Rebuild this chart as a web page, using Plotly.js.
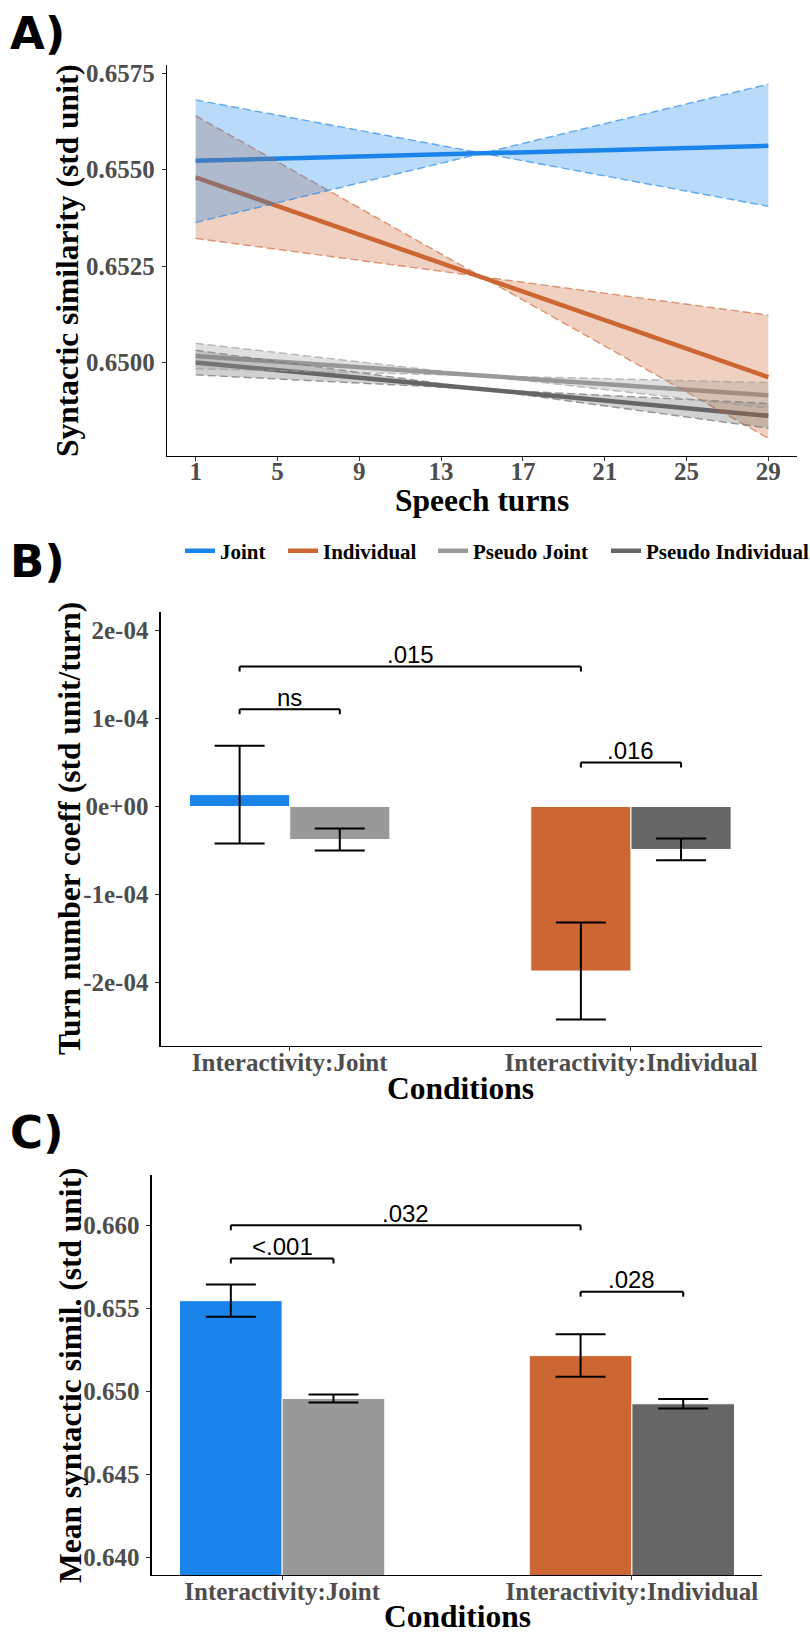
<!DOCTYPE html>
<html>
<head>
<meta charset="utf-8">
<script src="https://cdn.plot.ly/plotly-3.0.1.min.js"></script>
<style>
  html, body { margin: 0; padding: 0; background: #ffffff; }
  #fig { width: 810px; height: 1636px; }
</style>
</head>
<body>
<div id="fig"></div>
<script>
// ---------- Panel A: fitted similarity over speech turns ----------
const turnEnds = [1, 29];
const jointFit     = [0.65523, 0.65562];
const jointBoundA  = [0.65681, 0.65405];
const jointBoundB  = [0.65363, 0.65722];
const indivFit     = [0.65480, 0.64962];
const indivBoundA  = [0.65640, 0.64804];
const indivBoundB  = [0.65322, 0.65123];
const pjointFit    = [0.65017, 0.64915];
const pjointBoundA = [0.65050, 0.64882];
const pjointBoundB = [0.64984, 0.64948];
const pindivFit    = [0.65000, 0.64862];
const pindivBoundA = [0.65032, 0.64830];
const pindivBoundB = [0.64968, 0.64894];
const turnTicks = [1, 5, 9, 13, 17, 21, 25, 29];
const simTicks = [0.6500, 0.6525, 0.6550, 0.6575];
const simTickText = ['0.6500', '0.6525', '0.6550', '0.6575'];

// ---------- Groups shared by panels B and C ----------
const groups = ['Joint', 'Individual', 'Pseudo Joint', 'Pseudo Individual'];
const conditions = ['Interactivity:Joint', 'Interactivity:Individual'];
const groupCondition = [0, 1, 0, 1];      // index into conditions
const groupIsPseudo = [false, false, true, true];
const groupColors = ['#1a84ea', '#cc6633', '#999999', '#666666'];
const groupRGB = ['26,132,234', '204,102,51', '153,153,153', '102,102,102'];

// ---------- Panel B: turn-number coefficient ----------
const slopeValues = [1.35e-5, -1.87e-4, -3.76e-5, -4.88e-5];
const slopeErrors = [5.55e-5, 5.52e-5, 1.25e-5, 1.24e-5];
const slopeTicks = [-2e-4, -1e-4, 0, 1e-4, 2e-4];
const slopeTickText = ['-2e-04', '-1e-04', '0e+00', '1e-04', '2e-04'];
const slopeBrackets = [
  { a: 0, b: 1, y: 1.59e-4, label: '.015' },
  { a: 0, b: 2, y: 1.105e-4, label: 'ns' },
  { a: 1, b: 3, y: 0.50e-4, label: '.016' }
];

// ---------- Panel C: mean syntactic similarity ----------
const meanValues = [0.65546, 0.65215, 0.64957, 0.64925];
const meanErrors = [0.00097, 0.00128, 0.00024, 0.00028];
const meanTicks = [0.640, 0.645, 0.650, 0.655, 0.660];
const meanTickText = ['0.640', '0.645', '0.650', '0.655', '0.660'];
const meanBrackets = [
  { a: 0, b: 1, y: 0.6600, label: '.032' },
  { a: 0, b: 2, y: 0.6580, label: '<.001' },
  { a: 1, b: 3, y: 0.6560, label: '.028' }
];

// ---------- styling ----------
const W = 810, H = 1636;
const BAR_GAP = 0.413;
const serif = 'Liberation Serif, Times New Roman, serif';
const sans = 'Liberation Sans, Arial, sans-serif';
const tickFont = { family: serif, size: 25, color: '#4d4d4d', weight: 'bold' };
const catFont = { family: serif, size: 25, color: '#4d4d4d', weight: 'bold' };
const titleFont = { family: serif, size: 31.5, color: '#000000', weight: 'bold' };
// legend entry widths so the keys are spread like a ggplot legend
const legendWidths = [58, 105, 128, null];

const px = (v) => v / W;
const py = (v) => 1 - v / H;

const traces = [];

// fitted lines (also feed the legend)
const fits = [jointFit, indivFit, pjointFit, pindivFit];
fits.forEach((fy, i) => {
  const t = {
    type: 'scatter', mode: 'lines', x: turnEnds, y: fy,
    xaxis: 'x', yaxis: 'y', name: groups[i],
    line: { color: groupColors[i], width: 4.5 },
    showlegend: true, hoverinfo: 'skip'
  };
  if (legendWidths[i]) t.legendwidth = legendWidths[i];
  traces.push(t);
});

// confidence ribbons, drawn after the lines
const ribbonOrder = [1, 0, 3, 2];
const bounds = [
  [jointBoundA, jointBoundB],
  [indivBoundA, indivBoundB],
  [pjointBoundA, pjointBoundB],
  [pindivBoundA, pindivBoundB]
];
ribbonOrder.forEach((g) => {
  const edge = { color: 'rgba(' + groupRGB[g] + ',0.65)', width: 1.4, dash: '8px,4px' };
  traces.push({
    type: 'scatter', mode: 'lines', x: turnEnds, y: bounds[g][0],
    xaxis: 'x', yaxis: 'y', line: edge, showlegend: false, hoverinfo: 'skip'
  });
  traces.push({
    type: 'scatter', mode: 'lines', x: turnEnds, y: bounds[g][1],
    xaxis: 'x', yaxis: 'y', line: edge, fill: 'tonexty',
    fillcolor: 'rgba(' + groupRGB[g] + ',0.3)', showlegend: false, hoverinfo: 'skip'
  });
});

// bar panels
function barTraces(values, errors, xa, ya) {
  groups.forEach((g, i) => {
    traces.push({
      type: 'bar', x: [conditions[groupCondition[i]]], y: [values[i]],
      xaxis: xa, yaxis: ya, name: g, showlegend: false,
      offsetgroup: groupIsPseudo[i] ? 'pseudo' : 'real',
      marker: { color: groupColors[i], line: { color: '#ffffff', width: 1 } },
      error_y: { type: 'data', array: [errors[i]], visible: true, color: '#000000', thickness: 2, width: 25 },
      hoverinfo: 'skip'
    });
  });
}
barTraces(slopeValues, slopeErrors, 'x2', 'y2');
barTraces(meanValues, meanErrors, 'x3', 'y3');

// significance brackets
const barOffset = (1 - BAR_GAP) / 4;
const groupX = (i) => groupCondition[i] + (groupIsPseudo[i] ? barOffset : -barOffset);
const shapes = [];
const annotations = [];
function addBrackets(list, xa, ya, tickLen) {
  list.forEach((br) => {
    const x0 = groupX(br.a), x1 = groupX(br.b);
    const ln = { color: '#000000', width: 2 };
    shapes.push({ type: 'line', xref: xa, yref: ya, x0: x0, x1: x1, y0: br.y, y1: br.y, line: ln });
    shapes.push({ type: 'line', xref: xa, yref: ya, x0: x0, x1: x0, y0: br.y, y1: br.y - tickLen, line: ln });
    shapes.push({ type: 'line', xref: xa, yref: ya, x0: x1, x1: x1, y0: br.y, y1: br.y - tickLen, line: ln });
    annotations.push({
      xref: xa, yref: ya, x: (x0 + x1) / 2, y: br.y, text: br.label, showarrow: false,
      xanchor: 'center', yanchor: 'middle', yshift: 12,
      font: { family: sans, size: 24, color: '#000000' }
    });
  });
}

const rangeA = [0.647578, 0.657715];
const rangeB = [-2.722e-4, 2.214e-4];
const rangeC = [0.638934, 0.66303];
const domA = [py(456), py(65)], domB = [py(1046), py(611.7)], domC = [py(1575), py(1175)];
addBrackets(slopeBrackets, 'x2', 'y2', 5 * (rangeB[1] - rangeB[0]) / 434.3);
addBrackets(meanBrackets, 'x3', 'y3', 5 * (rangeC[1] - rangeC[0]) / 400);

// panel letters
[['A)', 33], ['B)', 561], ['C)', 1132]].forEach(([t, yc]) => {
  annotations.push({
    xref: 'paper', yref: 'paper', x: px(8), y: py(yc), xanchor: 'left', yanchor: 'middle',
    text: t, showarrow: false,
    font: { family: 'DejaVu Sans', size: 45, color: '#000000', weight: 'bold' }
  });
});

// axis titles
function xTitle(text, xCenter, yCenter) {
  annotations.push({
    xref: 'paper', yref: 'paper', x: px(xCenter), y: py(yCenter),
    xanchor: 'center', yanchor: 'middle', text: text, showarrow: false, font: titleFont
  });
}
function yTitle(text, xCenter, yCenter) {
  annotations.push({
    xref: 'paper', yref: 'paper', x: px(xCenter), y: py(yCenter), textangle: -90,
    xanchor: 'center', yanchor: 'middle', text: text, showarrow: false, font: titleFont
  });
}
xTitle('Speech turns', 482, 500);
yTitle('Syntactic similarity (std unit)', 68, 261);
xTitle('Conditions', 461, 1088);
yTitle('Turn number coeff (std unit/turn)', 69, 829);
xTitle('Conditions', 457, 1616);
yTitle('Mean syntactic simil. (std unit)', 70, 1375);

const axisCommon = {
  showline: true, linecolor: '#000000', linewidth: 1.3, mirror: false,
  ticks: 'outside', ticklen: 4, tickwidth: 1, tickcolor: '#333333',
  showgrid: false, zeroline: false, fixedrange: true
};

const layout = {
  width: W, height: H,
  margin: { l: 0, r: 0, t: 0, b: 0, autoexpand: false },
  paper_bgcolor: '#ffffff', plot_bgcolor: '#ffffff',
  barmode: 'group', bargap: BAR_GAP, bargroupgap: 0,
  showlegend: true,
  legend: {
    orientation: 'h', x: px(180), xanchor: 'left', y: py(551), yanchor: 'middle',
    font: { family: serif, size: 21, color: '#000000', weight: 'bold' },
    bgcolor: 'rgba(0,0,0,0)', traceorder: 'normal'
  },
  xaxis: Object.assign({}, axisCommon, {
    domain: [px(167), px(797)], anchor: 'y', range: [-0.4, 30.4],
    tickmode: 'array', tickvals: turnTicks, ticktext: turnTicks.map(String), tickfont: tickFont,
    ticklabelstandoff: -11
  }),
  yaxis: Object.assign({}, axisCommon, {
    domain: domA, anchor: 'x', range: rangeA,
    tickmode: 'array', tickvals: simTicks, ticktext: simTickText, tickfont: tickFont,
    ticklabelstandoff: 2
  }),
  xaxis2: Object.assign({}, axisCommon, {
    domain: [px(160.7), px(762)], anchor: 'y2', type: 'category',
    categoryorder: 'array', categoryarray: conditions, range: [-0.378, 1.384],
    tickfont: catFont, ticklabelstandoff: -10
  }),
  yaxis2: Object.assign({}, axisCommon, {
    domain: domB, anchor: 'x2', range: rangeB,
    tickmode: 'array', tickvals: slopeTicks, ticktext: slopeTickText, tickfont: tickFont,
    ticklabelstandoff: 2
  }),
  xaxis3: Object.assign({}, axisCommon, {
    domain: [px(151.7), px(762)], anchor: 'y3', type: 'category',
    categoryorder: 'array', categoryarray: conditions, range: [-0.373, 1.372],
    tickfont: catFont, ticklabelstandoff: -10
  }),
  yaxis3: Object.assign({}, axisCommon, {
    domain: domC, anchor: 'x3', range: rangeC,
    tickmode: 'array', tickvals: meanTicks, ticktext: meanTickText, tickfont: tickFont,
    ticklabelstandoff: 2
  }),
  shapes: shapes,
  annotations: annotations
};

Plotly.newPlot('fig', traces, layout, { staticPlot: true, displayModeBar: false });
</script>
</body>
</html>
